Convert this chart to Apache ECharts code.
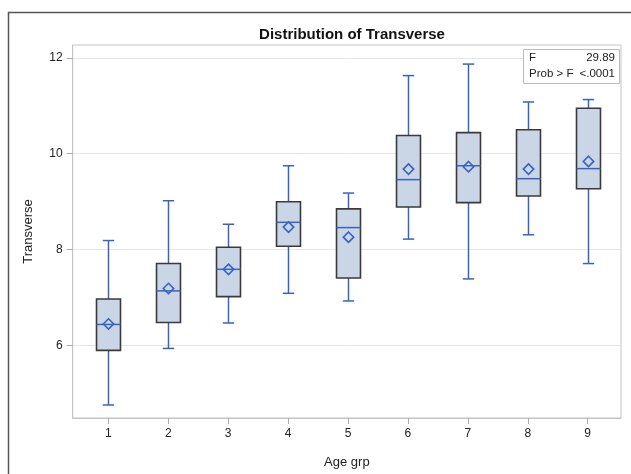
<!DOCTYPE html>
<html><head><meta charset="utf-8">
<script src="https://cdn.jsdelivr.net/npm/echarts@6/dist/echarts.min.js"></script>
<style>html,body{margin:0;padding:0;background:#fff}#c{width:631px;height:474px}</style>
</head><body><div id="c"></div>
<script>
var categories = [1, 2, 3, 4, 5, 6, 7, 8, 9];
var whiskerLow = [4.76, 5.94, 6.47, 7.09, 6.93, 8.22, 7.39, 8.31, 7.71];
var q1 = [5.90, 6.48, 7.02, 8.07, 7.41, 8.89, 8.98, 9.12, 9.27];
var median = [6.44, 7.14, 7.59, 8.57, 8.46, 9.46, 9.75, 9.48, 9.69];
var q3 = [6.97, 7.71, 8.05, 9.00, 8.85, 10.38, 10.44, 10.50, 10.95];
var whiskerHigh = [8.19, 9.02, 8.53, 9.75, 9.18, 11.63, 11.87, 11.08, 11.13];
var means = [6.45, 7.19, 7.59, 8.47, 8.26, 9.68, 9.73, 9.68, 9.84];
var yTicks = [6, 8, 10, 12];
var statLabels = ['F', 'Prob > F'];
var statValues = ['29.89', '<.0001'];

var FONT = '"Liberation Sans", Arial, sans-serif';
var BLUE = '#3864c0';
var data = categories.map(function (c, i) {
  return [c, whiskerLow[i], q1[i], median[i], q3[i], whiskerHigh[i], means[i]];
});

var chart = echarts.init(document.getElementById('c'), null, {renderer: 'canvas'});
chart.setOption({
  animation: false,
  title: {
    text: 'Distribution of Transverse',
    left: 347, top: 22, textAlign: 'center',
    textStyle: {fontFamily: FONT, fontSize: 15, fontWeight: 'bold', color: '#111'}
  },
  grid: {left: 72.7, right: 10, top: 45, bottom: 51, show: true, borderColor: '#c4c4c4', borderWidth: 1},
  xAxis: {
    type: 'value', min: 0.406, max: 9.556,
    name: 'Age grp', nameLocation: 'middle', nameGap: 38,
    nameTextStyle: {fontFamily: FONT, fontSize: 13, color: '#222'},
    axisLine: {show: true, lineStyle: {color: '#c4c4c4'}},
    axisTick: {show: true, length: 6, customValues: categories, lineStyle: {color: '#aaa'}},
    axisLabel: {customValues: categories, fontFamily: FONT, fontSize: 12, color: '#222', margin: 10},
    splitLine: {show: false}
  },
  yAxis: {
    type: 'value', min: 4.489, max: 12.268,
    name: 'Transverse', nameLocation: 'middle', nameGap: 38, nameRotate: 90,
    nameTextStyle: {fontFamily: FONT, fontSize: 13, color: '#222'},
    axisLine: {show: true, lineStyle: {color: '#c4c4c4'}},
    axisTick: {show: true, length: 6, customValues: yTicks, lineStyle: {color: '#aaa'}},
    axisLabel: {customValues: yTicks, fontFamily: FONT, fontSize: 12, color: '#222', margin: 10},
    splitLine: {show: false}
  },
  series: [{
    type: 'line', data: [], silent: true, z: 0, zlevel: 0,
    markLine: {
      silent: true, symbol: 'none', label: {show: false}, z: 0,
      lineStyle: {color: '#e6e6e6', width: 1, type: 'solid'},
      data: yTicks.map(function (t) { return {yAxis: t}; })
    }
  }, {
    type: 'custom', z: 5,
    data: data,
    encode: {x: 0, y: [1, 2, 3, 4, 5]},
    renderItem: function (params, api) {
      var x = api.value(0);
      var lo = api.coord([x, api.value(1)]);
      var b1 = api.coord([x, api.value(2)]);
      var md = api.coord([x, api.value(3)]);
      var b3 = api.coord([x, api.value(4)]);
      var hi = api.coord([x, api.value(5)]);
      var mn = api.coord([x, api.value(6)]);
      var hw = api.size([0.4, 0])[0] / 2;
      var cw = api.size([0.19, 0])[0] / 2;
      var d = 5.2;
      var cx = Math.round(lo[0]) + 0.5;
      var ls = {stroke: BLUE, lineWidth: 1.5};
      return {
        type: 'group',
        children: [
          {type: 'line', shape: {x1: cx, y1: b3[1], x2: cx, y2: hi[1]}, style: ls},
          {type: 'line', shape: {x1: cx, y1: b1[1], x2: cx, y2: lo[1]}, style: ls},
          {type: 'line', shape: {x1: cx - cw, y1: hi[1], x2: cx + cw, y2: hi[1]}, style: ls},
          {type: 'line', shape: {x1: cx - cw, y1: lo[1], x2: cx + cw, y2: lo[1]}, style: ls},
          {type: 'rect', shape: {x: cx - hw, y: b3[1], width: 2 * hw, height: b1[1] - b3[1]},
            style: {fill: '#cad5e6', stroke: '#3a3a3a', lineWidth: 1.6}},
          {type: 'line', shape: {x1: cx - hw, y1: md[1], x2: cx + hw, y2: md[1]}, style: ls},
          {type: 'polygon', shape: {points: [[cx, mn[1] - d], [cx + d, mn[1]], [cx, mn[1] + d], [cx - d, mn[1]]]},
            style: {fill: 'none', stroke: BLUE, lineWidth: 1.6}}
        ]
      };
    }
  }],
  graphic: [
    {type: 'rect', shape: {x: 8.5, y: 12.5, width: 640, height: 480}, style: {fill: 'none', stroke: '#555', lineWidth: 1.5}, silent: true},
    {type: 'rect', shape: {x: 523.5, y: 49.5, width: 96, height: 34}, style: {fill: '#fff', stroke: '#bbb', lineWidth: 1}, z: 100},
    {type: 'text', x: 529, y: 58, style: {text: statLabels[0], font: '11.5px ' + FONT, fill: '#222', textVerticalAlign: 'middle'}, z: 101},
    {type: 'text', x: 615, y: 58, style: {text: statValues[0], font: '11.5px ' + FONT, fill: '#222', textAlign: 'right', textVerticalAlign: 'middle'}, z: 101},
    {type: 'text', x: 529, y: 74, style: {text: statLabels[1], font: '11.5px ' + FONT, fill: '#222', textVerticalAlign: 'middle'}, z: 101},
    {type: 'text', x: 615, y: 74, style: {text: statValues[1], font: '11.5px ' + FONT, fill: '#222', textAlign: 'right', textVerticalAlign: 'middle'}, z: 101}
  ]
});
</script></body></html>
